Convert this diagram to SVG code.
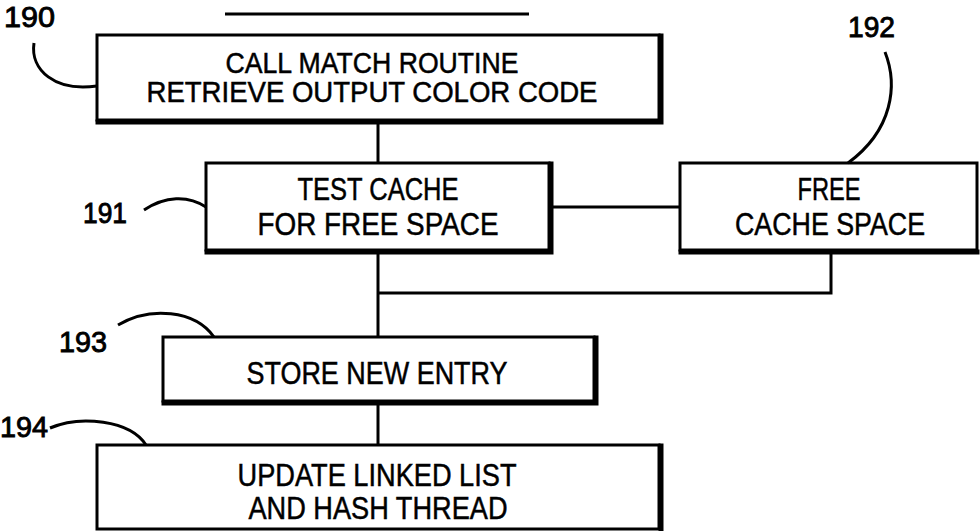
<svg xmlns="http://www.w3.org/2000/svg" width="980" height="531" viewBox="0 0 980 531">
<style>
.box{fill:#fff;stroke:#000;stroke-width:3}
.sh{fill:none;stroke:#000;stroke-width:5;stroke-linecap:square}
.t{font-family:"Liberation Sans",Arial,sans-serif;font-size:32px;fill:#000;stroke:#000;stroke-width:0.5;text-anchor:middle}
.s{font-size:29px}
.lbl{font-family:"Liberation Sans",Arial,sans-serif;font-size:29px;fill:#000;stroke:#000;stroke-width:0.9}
.ln{fill:none;stroke:#000;stroke-width:3}
</style>
<rect width="980" height="531" fill="#fff"/>
<line x1="225" y1="14" x2="529" y2="14" class="ln"/>
<g id="connectors">
<line x1="378" y1="121" x2="378" y2="163" class="ln"/>
<line x1="550" y1="207" x2="680" y2="207" class="ln"/>
<polyline points="378,251 378,337" class="ln"/>
<polyline points="378,293 831,293 831,251" class="ln"/>
<line x1="378" y1="402" x2="378" y2="445" class="ln"/>
</g>
<g id="n190">
<rect x="97" y="35" width="562" height="85" class="box"/>
<path d="M661 36 V122 H98" class="sh"/>
<text class="t s" x="372" y="73" textLength="293" lengthAdjust="spacingAndGlyphs">CALL MATCH ROUTINE</text>
<text class="t s" x="372" y="102" textLength="451" lengthAdjust="spacingAndGlyphs">RETRIEVE OUTPUT COLOR CODE</text>
<text class="lbl" x="4" y="27" textLength="51" lengthAdjust="spacingAndGlyphs">190</text>
<path d="M34 43 C30 70 55 92 97 86" class="ln"/>
</g>
<g id="n191">
<rect x="206" y="163" width="343" height="87" class="box"/>
<path d="M551 164 V252 H207" class="sh"/>
<text class="t" x="378" y="200" textLength="161" lengthAdjust="spacingAndGlyphs">TEST CACHE</text>
<text class="t" x="378" y="235" textLength="241" lengthAdjust="spacingAndGlyphs">FOR FREE SPACE</text>
<text class="lbl" x="83" y="223" textLength="44" lengthAdjust="spacingAndGlyphs">191</text>
<path d="M144 210 C165 196 188 195 206 207" class="ln"/>
</g>
<g id="n192">
<rect x="680" y="163" width="297" height="87" class="box"/>
<path d="M681 252 H977" class="sh"/>
<text class="t" x="829" y="200" textLength="63" lengthAdjust="spacingAndGlyphs">FREE</text>
<text class="t" x="830" y="235" textLength="190" lengthAdjust="spacingAndGlyphs">CACHE SPACE</text>
<text class="lbl" x="848" y="37" textLength="47" lengthAdjust="spacingAndGlyphs">192</text>
<path d="M885 52 C898 85 893 130 848 163" class="ln"/>
</g>
<g id="n193">
<rect x="163" y="337" width="431" height="64" class="box"/>
<path d="M596 338 V403 H164" class="sh"/>
<text class="t" x="377" y="384" textLength="261" lengthAdjust="spacingAndGlyphs">STORE NEW ENTRY</text>
<text class="lbl" x="59" y="352" textLength="48" lengthAdjust="spacingAndGlyphs">193</text>
<path d="M118 325 C150 306 195 310 214 337" class="ln"/>
</g>
<g id="n194">
<rect x="97" y="445" width="562" height="84" class="box"/>
<path d="M661 446 V530" class="sh"/>
<text class="t" x="377" y="486" textLength="279" lengthAdjust="spacingAndGlyphs">UPDATE LINKED LIST</text>
<text class="t" x="378" y="519" textLength="259" lengthAdjust="spacingAndGlyphs">AND HASH THREAD</text>
<text class="lbl" x="0" y="437" textLength="48" lengthAdjust="spacingAndGlyphs">194</text>
<path d="M50 428 C80 415 130 420 146 445" class="ln"/>
</g>
</svg>
